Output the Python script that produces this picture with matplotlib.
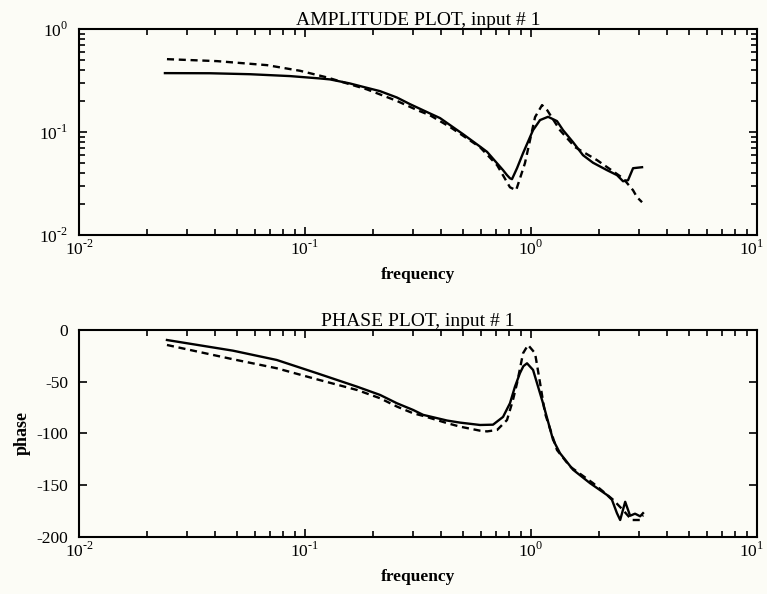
import numpy as np
import matplotlib
matplotlib.use("Agg")
import matplotlib.pyplot as plt
from matplotlib.ticker import LogLocator, NullFormatter
from matplotlib.transforms import ScaledTranslation

plt.rcParams['font.family'] = 'Liberation Serif'
plt.rcParams['mathtext.fontset'] = 'custom'
plt.rcParams['mathtext.rm'] = 'Liberation Serif'
plt.rcParams['axes.unicode_minus'] = False

# amplitude, solid curve
amp_f_solid = [0.0240, 0.038, 0.0571, 0.0859, 0.1165, 0.129, 0.158, 0.181, 0.2148,
               0.255, 0.2914, 0.357, 0.3957, 0.500, 0.5946, 0.639, 0.708, 0.752,
               0.7829, 0.807, 0.8238, 0.867, 0.9218, 1.0205, 1.096, 1.19, 1.303,
               1.386, 1.534, 1.698, 1.881, 2.168, 2.401, 2.554, 2.687, 2.828, 3.099]
amp_solid = [0.374, 0.373, 0.365, 0.350, 0.332, 0.325, 0.297, 0.275, 0.250,
             0.217, 0.187, 0.152, 0.137, 0.0957, 0.0725, 0.0644, 0.0498, 0.0428,
             0.0383, 0.0357, 0.0350, 0.0447, 0.0625, 0.1045, 0.131, 0.141, 0.128,
             0.1046, 0.080, 0.0598, 0.0505, 0.0428, 0.0383, 0.0334, 0.0342, 0.0447, 0.0457]

# amplitude, dashed curve
amp_f_dash = [0.0245, 0.0408, 0.0679, 0.0951, 0.125, 0.188, 0.255, 0.313, 0.357,
              0.439, 0.5946, 0.708, 0.807, 0.859, 0.940, 1.042, 1.119, 1.18,
              1.343, 1.567, 1.96, 2.554, 2.828, 2.944, 3.099]
amp_dash = [0.511, 0.489, 0.447, 0.394, 0.340, 0.260, 0.201, 0.164, 0.146,
            0.112, 0.0715, 0.0478, 0.0292, 0.0273, 0.050, 0.140, 0.183, 0.163,
            0.1045, 0.0715, 0.0535, 0.0357, 0.0273, 0.0234, 0.0209]

# phase, solid curve
ph_f_solid = [0.0245, 0.048, 0.075, 0.113, 0.170, 0.215, 0.255, 0.301, 0.333,
              0.425, 0.485, 0.595, 0.679, 0.752, 0.807, 0.849, 0.893, 0.925,
              0.960, 1.021, 1.130, 1.251, 1.343, 1.534, 1.824, 2.168, 2.28,
              2.40, 2.48, 2.61, 2.744, 2.885, 3.04, 3.13]
ph_solid = [-9.7, -20, -29, -41.8, -54.8, -62.8, -70.8, -77.3, -82,
            -87.5, -89.5, -91.8, -91.5, -84, -70.8, -54.8, -41.8, -35,
            -32.2, -38.6, -70.8, -106, -119, -135, -148, -159.4, -164,
            -177, -183.6, -166, -179.5, -177.5, -180, -177]

# phase, dashed curve
ph_f_dash = [0.0245, 0.048, 0.075, 0.113, 0.170, 0.215, 0.255, 0.301, 0.333,
             0.425, 0.485, 0.595, 0.639, 0.708, 0.783, 0.832, 0.867, 0.922,
             0.970, 1.042, 1.096, 1.153, 1.303, 1.489, 1.881, 2.307, 2.554,
             2.79, 3.04, 3.13]
ph_dash = [-14.5, -28.3, -37, -47.7, -58, -66, -74, -80.5, -83,
           -90, -93.4, -97.3, -98, -96.6, -87, -67.6, -51.5, -22.5,
           -14.5, -22.5, -51, -80.5, -116, -132, -148, -164, -174,
           -183.6, -183.6, -179]

x_ticks = [0.01, 0.1, 1, 10]
x_labels = [r'$10^{\text{-}2}$', r'$10^{\text{-}1}$', r'$10^{0}$', r'$10^{1}$']
amp_ticks = [0.01, 0.1, 1]
amp_labels = [r'$10^{\text{-}2}$', r'$10^{\text{-}1}$', r'$10^{0}$']
ph_ticks = [0, -50, -100, -150, -200]

bg = '#fcfcf6'
fig = plt.figure(figsize=(7.67, 5.94), dpi=100, facecolor=bg)
ax1 = fig.add_axes([0.103, 0.604, 0.884, 0.347], facecolor=bg)
ax2 = fig.add_axes([0.103, 0.096, 0.884, 0.3485], facecolor=bg)

ax1.plot(amp_f_solid, amp_solid, color='black', lw=1.7)
ax1.plot(amp_f_dash, amp_dash, color='black', lw=1.7, ls=(0, (3, 2)))
ax1.set_xscale('log')
ax1.set_yscale('log')
ax1.set_ylim(0.01, 1)
ax1.set_yticks(amp_ticks)
ax1.set_yticklabels(amp_labels)
ax1.yaxis.set_minor_locator(LogLocator(base=10, subs=np.arange(2, 10)))
ax1.yaxis.set_minor_formatter(NullFormatter())
ax1.set_title('AMPLITUDE PLOT, input # 1', fontsize=14, pad=1)

ax2.plot(ph_f_solid, ph_solid, color='black', lw=1.7)
ax2.plot(ph_f_dash, ph_dash, color='black', lw=1.7, ls=(0, (3, 2)))
ax2.set_xscale('log')
ax2.set_ylim(-200, 0)
ax2.set_yticks(ph_ticks)
ax2.set_ylabel('phase', fontsize=13, fontweight='bold', labelpad=4)
ax2.set_title('PHASE PLOT, input # 1', fontsize=14, pad=1)

for ax in (ax1, ax2):
    ax.set_xlim(0.01, 10)
    ax.set_xticks(x_ticks)
    ax.set_xticklabels(x_labels)
    ax.xaxis.set_minor_locator(LogLocator(base=10, subs=np.arange(2, 10)))
    ax.xaxis.set_minor_formatter(NullFormatter())
    ax.set_xlabel('frequency', fontsize=12.5, fontweight='bold', labelpad=6)
    ax.tick_params(which='both', direction='in', top=True, right=True,
                   labelsize=12.5, width=1.2)
    ax.tick_params(axis='x', pad=3)
    ax.tick_params(axis='y', pad=8)
    ax.tick_params(which='major', length=6)
    ax.tick_params(which='minor', length=4)
    for s in ax.spines.values():
        s.set_linewidth(1.5)
    # nudge the 10^1 label so it stays inside the figure
    last = ax.get_xticklabels()[-1]
    last.set_transform(last.get_transform() + ScaledTranslation(-4 / 72, 0, fig.dpi_scale_trans))

fig.savefig('out.png', dpi=100, facecolor=bg)
